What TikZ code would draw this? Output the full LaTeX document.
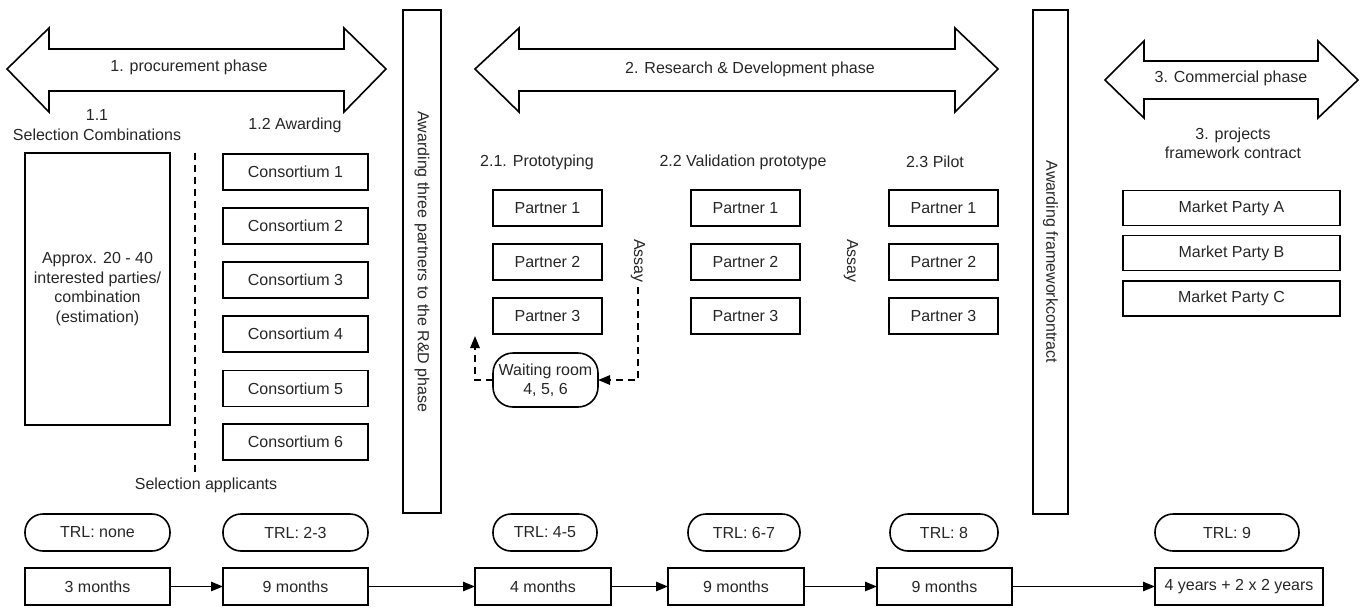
\documentclass[tikz,border=0pt]{standalone}
\usepackage{fontspec}
\setmainfont{Liberation Sans}
\usetikzlibrary{arrows.meta}
\tikzset{
  sz/.style n args={2}{minimum width=#1*0.75pt, minimum height=#2*0.75pt},
  box/.style={draw, line width=1.2pt, inner sep=0pt, outer sep=0pt},
  pill/.style={box, rounded corners=13.5pt},
  bigarrow/.style={draw, line width=1.2pt, line join=miter},
  flow/.style={line width=1.2pt, -{Triangle[length=9pt,width=7pt]}},
  dashline/.style={line width=1.5pt, dash pattern=on 5pt off 4pt},
  lbl/.style={inner sep=1pt, align=center}
}
\begin{document}
\begin{tikzpicture}[x=0.75pt,y=-0.75pt,
  every node/.style={font=\fontsize{12}{14.6}\selectfont, text=black!85}]
\useasboundingbox (0,0) rectangle (1365,608);

% ---- phase arrows ----
\draw[bigarrow] (7,69) -- (49,28) -- (49,49) -- (344,49) -- (344,28) -- (386,69)
  -- (344,112) -- (344,91) -- (49,91) -- (49,112) -- cycle;
\node[lbl] (ph1) at (189,67) {1. procurement phase};

\draw[bigarrow] (475,69) -- (519,28) -- (519,49) -- (955,49) -- (955,28) -- (998,69)
  -- (955,112) -- (955,91) -- (519,91) -- (519,112) -- cycle;
\node[lbl] (ph2) at (750,69) {2. Research \& Development phase};

\draw[bigarrow] (1105,80) -- (1144,41) -- (1144,61) -- (1318,61) -- (1318,41) -- (1358,80)
  -- (1318,118) -- (1318,99) -- (1144,99) -- (1144,118) -- cycle;
\node[lbl] (ph3) at (1231,78) {3. Commercial phase};

% ---- 1. procurement ----
\node[lbl] (h11) at (97,125) {1.1\\Selection Combinations};
\node[lbl] (h12) at (295,125) {1.2 Awarding};
\node[box, sz={145}{272}, align=center] (parties) at (97.5,289)
  {Approx. 20 - 40\\interested parties/\\combination\\(estimation)};
\foreach \i/\y in {1/172,2/226,3/280,4/334,5/388.5,6/442}
  \node[box, sz={145}{36}] (cons\i) at (295.5,\y) {Consortium \i};
\coordinate (selA) at (195,153);
\coordinate (selB) at (195,473);
\draw[dashline] (selA) -- (selB);
\node[lbl] (selapp) at (206,485) {Selection applicants};

% ---- awarding bars ----
\node[box, sz={38}{503}] (bar1) at (422,261.5) {};
\node[rotate=-90] (bar1txt) at (422,262) {Awarding three partners to the R\&D phase};
\node[box, sz={35}{504}] (bar2) at (1050.5,262) {};
\node[rotate=-90] (bar2txt) at (1050.5,262) {Awarding frameworkcontract};

% ---- 2. research & development ----
\node[lbl] (h21) at (537,162) {2.1. Prototyping};
\node[lbl] (h22) at (743,162) {2.2 Validation prototype};
\node[lbl] (h23) at (935,162) {2.3 Pilot};
\foreach \c/\x in {a/547.5,b/745.5,c/943.5}
  \foreach \i/\y in {1/208,2/262,3/316}
    \node[box, sz={109}{36}] (p\c\i) at (\x,\y) {Partner \i};
\node[box, sz={105}{54}, rounded corners=15pt, align=center] (wait) at (545.5,380)
  {Waiting room\\4, 5, 6};
\node[rotate=-90, inner sep=3pt] (assay1) at (638,261) {Assay};
\node[rotate=-90, inner sep=3pt] (assay2) at (851,261) {Assay};
\coordinate (backup) at (475,336);
\draw[dashline, -{Triangle[length=9pt,width=7pt]}] (assay1.east) -- (assay1.east |- wait.east) -- (wait.east);
\draw[dashline, -{Triangle[length=9pt,width=7pt]}] (wait.west) -| (backup);

% ---- 3. commercial ----
\node[lbl] (h3) at (1233,143.5) {3. projects\\framework contract};
\foreach \i/\y in {A/208,B/253,C/298.5}
  \node[box, sz={217}{35}] (mp\i) at (1231.5,\y) {Market Party \i};

% ---- TRL levels ----
\node[pill, sz={145}{37}] (trl1) at (97.5,532.5) {TRL: none};
\node[pill, sz={145}{37}] (trl2) at (295.5,532.5) {TRL: 2-3};
\node[pill, sz={104}{37}] (trl3) at (545,532.5) {TRL: 4-5};
\node[pill, sz={112}{37}] (trl4) at (744,532.5) {TRL: 6-7};
\node[pill, sz={108}{37}] (trl5) at (944,532.5) {TRL: 8};
\node[pill, sz={144}{37}] (trl6) at (1227,532.5) {TRL: 9};

% ---- durations ----
\node[box, sz={145}{37}] (d1) at (97.5,586.5) {3 months};
\node[box, sz={145}{37}] (d2) at (295.5,586.5) {9 months};
\node[box, sz={136}{37}] (d3) at (543,586.5) {4 months};
\node[box, sz={136}{37}] (d4) at (736,586.5) {9 months};
\node[box, sz={135}{37}] (d5) at (944.5,586.5) {9 months};
\node[box, sz={168}{37}] (d6) at (1239,586.5) {4 years + 2 x 2 years};
\foreach \a/\b in {d1/d2,d2/d3,d3/d4,d4/d5,d5/d6}
  \draw[flow] (\a.east) -- (\b.west);
\end{tikzpicture}
\end{document}
